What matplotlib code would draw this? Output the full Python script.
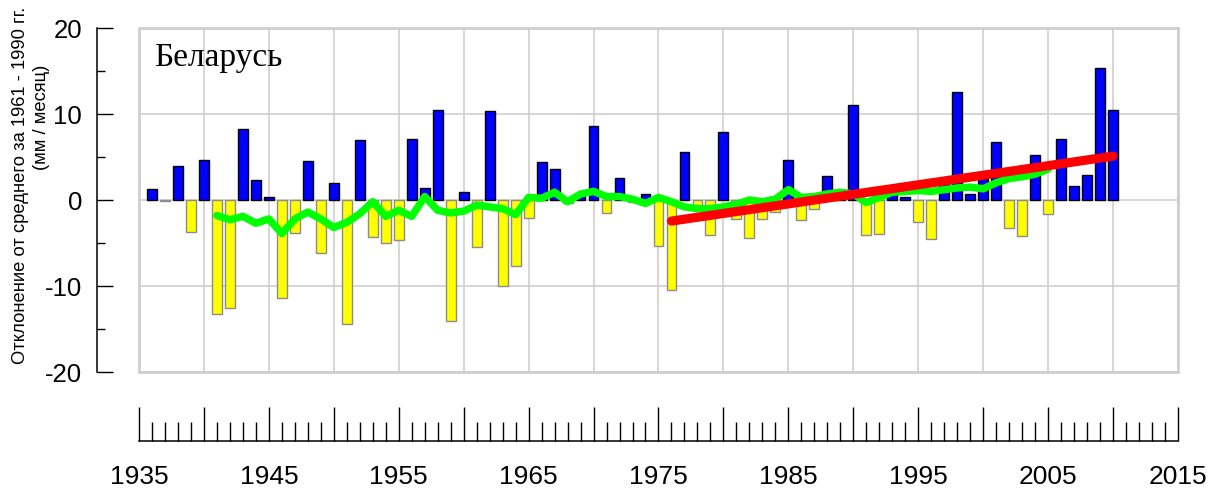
import numpy as np
import matplotlib
matplotlib.use("Agg")
import matplotlib.pyplot as plt
from matplotlib.patches import Rectangle
from matplotlib.ticker import MultipleLocator, FuncFormatter

# Annual precipitation anomaly (mm / month) relative to 1961-1990
years = list(range(1936, 2011))
anomaly = [
    1.3, -0.1, 4.0, -3.7, 4.7, -13.3, -12.5, 8.3, 2.3, 0.3,          # 1936-1945
    -11.4, -3.8, 4.5, -6.2, 2.0, -14.4, 7.0, -4.3, -5.0, -4.6,       # 1946-1955
    7.1, 1.4, 10.5, -14.1, 0.9, -5.5, 10.4, -10.0, -7.7, -2.1,       # 1956-1965
    4.4, 3.6, -0.3, 0.6, 8.6, -1.5, 2.6, -0.2, 0.7, -5.3,            # 1966-1975
    -10.5, 5.6, -1.3, -4.1, 7.9, -2.2, -4.4, -2.2, -1.4, 4.6,        # 1976-1985
    -2.3, -1.0, 2.8, 0.5, 11.0, -4.1, -4.0, 0.9, 0.3, -2.5,          # 1986-1995
    -4.5, 1.9, 12.6, 0.7, 2.5, 6.7, -3.3, -4.2, 5.2, -1.6,           # 1996-2005
    7.1, 1.6, 2.9, 15.4, 10.5,                                       # 2006-2010
]

# Smoothed curve (11-year running mean)
smooth_years = list(range(1941, 2006))
smooth_values = [
    -1.8, -2.3, -1.9, -2.7, -2.2, -3.9, -2.2, -1.4, -2.2, -3.2,      # 1941-1950
    -2.6, -1.6, -0.2, -1.9, -1.2, -1.9, 0.4, -1.2, -1.5, -1.3,       # 1951-1960
    -0.6, -0.8, -1.0, -1.7, 0.3, 0.2, 0.9, -0.2, 0.7, 1.0,           # 1961-1970
    0.4, 0.4, 0.1, -0.4, 0.3, -0.2, -0.8, -1.0, -1.0, -0.8,          # 1971-1980
    -0.5, 0.0, -0.2, 0.1, 1.2, 0.3, 0.4, 0.7, 0.9, 0.7,              # 1981-1990
    -0.3, 0.3, 0.9, 1.0, 1.1, 1.0, 1.2, 1.4, 1.5, 1.3,               # 1991-2000
    2.0, 2.5, 2.7, 3.0, 3.6,                                         # 2001-2005
]

# Linear trend 1976-2010
trend_years = [1976, 2010]
trend_values = [-2.45, 5.1]

title = "Беларусь"
ylabel_line1 = "Отклонение от среднего за 1961 - 1990 гг."
ylabel_line2 = "(мм / месяц)"

fig = plt.figure(figsize=(12.13, 4.88), dpi=100)
ax = fig.add_axes([0.1146, 0.2377, 0.8565, 0.7049])
ax.set_xlim(1935, 2015)
ax.set_ylim(-20, 20)

grid_color = "#cfcfcf"
ax.grid(True, which="major", color=grid_color, lw=1.2, zorder=0)
ax.set_axisbelow(True)

vals = np.array(anomaly)
colors = ["#0000ff" if v > 0 else "#ffff00" for v in vals]
edges = ["#000000" if v > 0 else "#8c8c8c" for v in vals]
ax.bar(years, vals, width=0.76, color=colors, edgecolor=edges, linewidth=1.0, zorder=2)

ax.plot(smooth_years, smooth_values, color="#00ff00", lw=5.4, zorder=3,
        solid_joinstyle="round", solid_capstyle="round")
ax.plot(trend_years, trend_values, color="#ff0000", lw=6.6, zorder=4,
        solid_capstyle="round")

# Light frame around the plotting area
ax.add_patch(Rectangle((0, 0), 1, 1, transform=ax.transAxes, fill=False,
                       edgecolor=grid_color, lw=2.0, clip_on=False, zorder=5))

# Detached axes
for side in ("top", "right"):
    ax.spines[side].set_visible(False)
ax.spines["left"].set_position(("outward", 30))
ax.spines["bottom"].set_position(("outward", 50))
for side in ("left", "bottom"):
    ax.spines[side].set_linewidth(1.1)
    ax.spines[side].set_color("black")

ax.xaxis.set_major_locator(MultipleLocator(5))
ax.xaxis.set_minor_locator(MultipleLocator(1))
ax.xaxis.set_major_formatter(FuncFormatter(
    lambda v, p: f"{int(round(v))}" if int(round(v)) % 10 == 5 else ""))
ax.yaxis.set_major_locator(MultipleLocator(10))
ax.yaxis.set_minor_locator(MultipleLocator(5))
ax.yaxis.set_major_formatter(FuncFormatter(lambda v, p: f"{int(round(v))}"))

ax.tick_params(axis="x", which="major", direction="in", length=24.5, width=1.0,
               pad=17, labelsize=19)
ax.tick_params(axis="x", which="minor", direction="in", length=13.5, width=1.0)
ax.tick_params(axis="y", which="major", direction="in", length=11.5, width=1.0,
               pad=11, labelsize=18.5)
ax.tick_params(axis="y", which="minor", direction="in", length=5.8, width=1.0)
for lab in ax.get_xticklabels() + ax.get_yticklabels():
    lab.set_fontfamily("Liberation Sans")

ax.text(1936.15, 15.57, title, family="Liberation Serif", fontsize=24,
        va="baseline", ha="left", zorder=6)

fig.text(0.0165, 0.621, ylabel_line1, rotation=90, family="Liberation Sans",
         fontsize=13.2, ha="center", va="center")
fig.text(0.034, 0.760, ylabel_line2, rotation=90, family="Liberation Sans",
         fontsize=13.2, ha="center", va="center")

fig.savefig("out.png", dpi=100)
